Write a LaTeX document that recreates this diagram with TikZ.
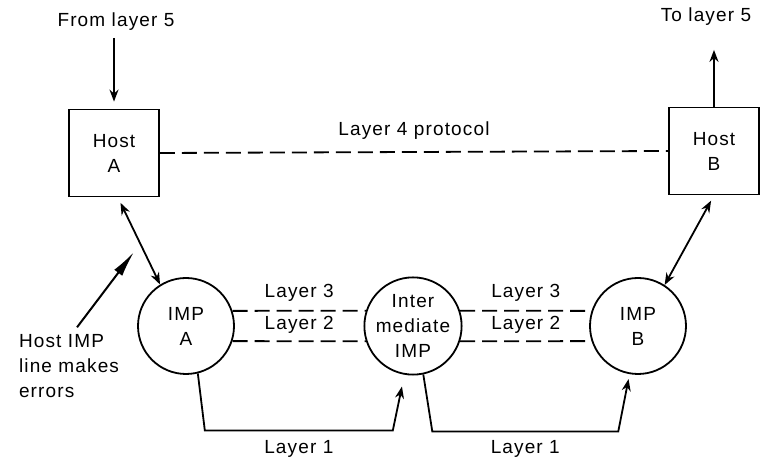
\documentclass[tikz,border=0pt]{standalone}
\usepackage{fontspec}
\setmainfont{Liberation Sans}[LetterSpace=6]
\usetikzlibrary{positioning,arrows.meta}

\begin{document}
\begin{tikzpicture}[x=0.5pt, y=-0.5pt, >=Stealth, every node/.style={font=\fontsize{9.5}{12.5}\selectfont}]
  % Styles
  \tikzset{
    host/.style={draw, line width=0.9pt, minimum width=45pt, minimum height=43.5pt, align=center, inner sep=0pt},
    imp/.style={draw, circle, line width=0.9pt, minimum size=48pt, align=center, inner sep=0pt},
    arrow/.style={-{Stealth[length=6pt,width=4.5pt]}, line width=0.9pt},
    twoway/.style={{Stealth[length=6pt,width=4.5pt]}-{Stealth[length=6pt,width=4.5pt]}, line width=0.9pt},
    wire/.style={line width=0.9pt},
    proto/.style={dash pattern=on 7.5pt off 3.5pt, line width=0.9pt},
    lbl/.style={inner sep=1pt}
  }
  \useasboundingbox (0,0) rectangle (762,459);

  % Nodes
  \node[host] (hostA) at (114,153) {Host\\A};
  \node[host] (hostB) at (714,151) {Host\\B};
  \node[imp] (impA) at (186,326) {IMP\\A};
  \node[imp] (inter) at (413,326) {Inter\\mediate\\IMP};
  \node[imp] (impB) at (638,326) {IMP\\B};

  \node (from5) at (116,22) {From layer 5};
  \node (to5) at (706,17) {To layer 5};
  \node[align=left, anchor=west] (errtxt) at (12,366) {Host IMP\\line makes\\errors};
  \coordinate (errtip) at (134,252);

  % Layer 5 in and out
  \draw[arrow, shorten >=3.5pt] (hostA.north |- from5.south) -- (hostA.north);
  \draw[arrow, shorten >=8.5pt] (hostB.north) -- (hostB.north |- to5.south);

  % Layer 4: host to host
  \draw[proto] (hostA.east) -- (hostB.west)
      node[midway, lbl, yshift=10.5pt] {Layer 4 protocol};

  % Host <-> IMP lines
  \draw[twoway, shorten <=3pt] (hostA.-85) -- (impA.122);
  \draw[twoway, shorten <=3pt] (hostB.south) -- (impB.57);

  % the line that makes errors
  \draw[-{Latex[length=13pt,width=5pt]}, line width=1pt] ([xshift=4pt]errtxt.north) -- (errtip);

  % Layers 3 and 2: IMP to IMP
  \draw[proto] (impA.18) -- (inter.162)
      node[midway, lbl, yshift=9pt] {Layer 3}
      node[midway, lbl, yshift=-7pt] {Layer 2};
  \draw[proto] (impA.-18) -- (inter.198);
  \draw[proto] (inter.18) -- (impB.162)
      node[midway, lbl, yshift=9pt] {Layer 3}
      node[midway, lbl, yshift=-7pt] {Layer 2};
  \draw[proto] (inter.-18) -- (impB.198);

  % Layer 1: the wires below
  \draw[arrow, shorten >=6pt] (impA.-76) -- ++(7,57) -- ++(188,0)
      node[midway, lbl, yshift=-9pt] {Layer 1} -- (inter.-100);
  \draw[arrow, shorten >=2.5pt] (inter.-78) -- ++(9,57) -- ++(186,0)
      node[midway, lbl, yshift=-9pt] {Layer 1} -- (impB.-100);
\end{tikzpicture}
\end{document}
